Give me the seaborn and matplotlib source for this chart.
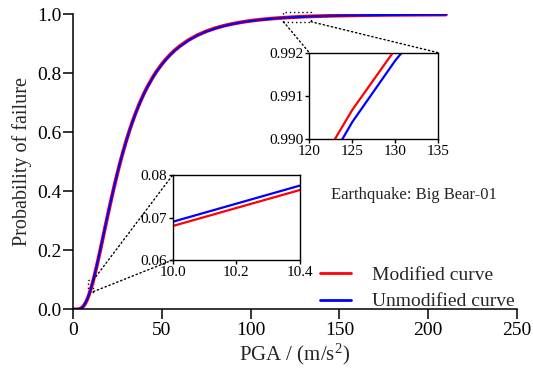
import matplotlib
matplotlib.use("Agg")
import matplotlib.pyplot as plt
from matplotlib.patches import Rectangle, ConnectionPatch
import seaborn as sns
import pandas as pd

# ---- data ----
pga = [0, 1, 2, 3, 4, 5, 6, 7, 8, 9, 10, 11, 12, 13, 14, 15, 16, 17, 18, 19, 20,
       21, 22, 23, 24, 25, 26, 27, 28, 30, 32, 33, 35, 37, 38, 40, 42, 45, 47, 50,
       52, 55, 57, 60, 65, 70, 75, 80, 85, 90, 95, 100, 105, 110, 115, 120, 125,
       130, 135, 150, 165, 180, 195, 210]
p_modified = [0.0, 0.0, 0.00004, 0.00044, 0.00196, 0.00545, 0.01166, 0.02099, 0.0336,
              0.0493, 0.0680, 0.0892, 0.1125, 0.1375, 0.1638, 0.1911, 0.2190, 0.2472,
              0.2755, 0.3036, 0.3313, 0.3587, 0.3855, 0.4116, 0.4370, 0.4616, 0.4853,
              0.5082, 0.5303, 0.5718, 0.6099, 0.6278, 0.6611, 0.6915, 0.7056, 0.7320,
              0.7558, 0.7876, 0.8062, 0.8310, 0.8457, 0.8651, 0.8765, 0.8917, 0.9127,
              0.9293, 0.9424, 0.9529, 0.9613, 0.9680, 0.9735, 0.9780, 0.9816, 0.9845,
              0.98699, 0.98901, 0.99068, 0.99208, 0.99324, 0.99573, 0.99724, 0.99818,
              0.99878, 0.99916]
p_unmodified = [0.0, 0.0, 0.00004, 0.00047, 0.00205, 0.00566, 0.01202, 0.02157, 0.0343,
                0.0502, 0.0690, 0.0903, 0.1137, 0.1388, 0.1651, 0.1924, 0.2202, 0.2484,
                0.2766, 0.3046, 0.3323, 0.3596, 0.3862, 0.4122, 0.4375, 0.4620, 0.4856,
                0.5083, 0.5303, 0.5716, 0.6096, 0.6273, 0.6605, 0.6907, 0.7049, 0.7311,
                0.7549, 0.7866, 0.8052, 0.8300, 0.8445, 0.8640, 0.8754, 0.8906, 0.9117,
                0.9283, 0.9416, 0.9521, 0.9606, 0.9674, 0.9730, 0.9774, 0.9811, 0.9841,
                0.98662, 0.98869, 0.9904, 0.99182, 0.99302, 0.99557, 0.99713, 0.99810,
                0.99871, 0.99912]
series_names = ["Modified curve", "Unmodified curve"]
main_xticks = [0, 50, 100, 150, 200, 250]
main_yticks = [0.0, 0.2, 0.4, 0.6, 0.8, 1.0]
ins1_xticks = [120, 125, 130, 135]
ins1_yticks = [0.990, 0.991, 0.992]
ins2_xticks = [10.0, 10.2, 10.4]
ins2_yticks = [0.06, 0.07, 0.08]
annotation = "Earthquake: Big Bear-01"

n = min(len(pga), len(p_modified), len(p_unmodified))
df = pd.DataFrame({
    "PGA": pga[:n] * 2,
    "P": p_modified[:n] + p_unmodified[:n],
    "curve": [series_names[0]] * n + [series_names[1]] * n,
})

sns.set_style("ticks")
plt.rcParams["font.family"] = ["Liberation Serif", "DejaVu Serif"]
plt.rcParams["mathtext.fontset"] = "custom"
plt.rcParams["mathtext.rm"] = "Liberation Serif"
plt.rcParams["mathtext.it"] = "Liberation Serif:italic"

palette = {series_names[0]: "#ff0000", series_names[1]: "#0000ff"}

fig = plt.figure(figsize=(5.33, 3.72), dpi=100)
ax = fig.add_axes([0.137, 0.1685, 0.833, 0.793])

for name, lw in [(series_names[0], 2.7), (series_names[1], 1.5)]:
    sub = df[df["curve"] == name]
    sns.lineplot(data=sub, x="PGA", y="P", color=palette[name], lw=lw, ax=ax,
                 label=name, estimator=None, sort=False)

ax.set_xlim(0, 250)
ax.set_ylim(0, 1.0)
ax.set_xticks(main_xticks)
ax.set_yticks(main_yticks)
ax.set_yticklabels([f"{v:.1f}" for v in main_yticks])
ax.set_xticklabels([str(v) for v in main_xticks])
sns.despine(ax=ax)
for s in ["left", "bottom"]:
    ax.spines[s].set_linewidth(1.1)
    ax.spines[s].set_color("black")
ax.tick_params(axis="both", direction="out", length=7, width=1.1, labelsize=14,
               colors="black")
ax.tick_params(axis="y", pad=1)
ax.tick_params(axis="x", pad=2)
ax.set_xlabel("PGA / (m/s$^2$)", fontsize=15, labelpad=2)
ax.set_ylabel("Probability of failure", fontsize=14.5, labelpad=4)

leg = ax.legend(loc="lower right", bbox_to_anchor=(1.0, -0.01), frameon=False,
                fontsize=14, handlelength=1.6, handletextpad=1.1, labelspacing=0.45,
                borderaxespad=0.0, borderpad=0.1)
for h in leg.get_lines():
    h.set_linewidth(2.0)

ax.text(0.768, 0.387, annotation, transform=ax.transAxes, fontsize=12,
        ha="center", va="center")

# ---- inset 1 (upper right) ----
ins1 = fig.add_axes([0.5803, 0.6255, 0.242, 0.2328])
for name in series_names:
    sub = df[df["curve"] == name]
    sns.lineplot(data=sub, x="PGA", y="P", color=palette[name], lw=1.6, ax=ins1,
                 legend=False, estimator=None, sort=False)
ins1.set_xlim(120, 135)
ins1.set_ylim(0.990, 0.992)
ins1.set_xticks(ins1_xticks)
ins1.set_yticks(ins1_yticks)
ins1.set_xticklabels([str(v) for v in ins1_xticks])
ins1.set_yticklabels([f"{v:.3f}" for v in ins1_yticks])
ins1.set_xlabel("")
ins1.set_ylabel("")

# ---- inset 2 (lower) ----
ins2 = fig.add_axes([0.324, 0.301, 0.2388, 0.2285])
for name in series_names:
    sub = df[df["curve"] == name]
    sns.lineplot(data=sub, x="PGA", y="P", color=palette[name], lw=1.6, ax=ins2,
                 legend=False, estimator=None, sort=False)
ins2.set_xlim(10.0, 10.4)
ins2.set_ylim(0.06, 0.08)
ins2.set_xticks(ins2_xticks)
ins2.set_yticks(ins2_yticks)
ins2.set_xticklabels([f"{v:.1f}" for v in ins2_xticks])
ins2.set_yticklabels([f"{v:.2f}" for v in ins2_yticks])
ins2.set_xlabel("")
ins2.set_ylabel("")

for a in (ins1, ins2):
    for s in a.spines.values():
        s.set_linewidth(1.0)
        s.set_color("black")
        s.set_visible(True)
    a.tick_params(axis="both", direction="out", length=3, width=1.0, labelsize=11,
                  pad=1, colors="black")
    a.set_facecolor("white")

# ---- zoom markers ----
dot = dict(ls=(0, (1, 2)), lw=1.0, color="black")
r1 = Rectangle((118.5, 0.975), 15.5, 0.032, fill=False, clip_on=False, **dot)
ax.add_patch(r1)
for (xa, ya), (xb, yb) in [((118.5, 0.975), (0, 1)), ((134, 0.975), (1, 1))]:
    cp = ConnectionPatch(xyA=(xa, ya), coordsA=ax.transData, xyB=(xb, yb),
                         coordsB=ins1.transAxes, **dot)
    fig.add_artist(cp)
r2 = Rectangle((8.5, 0.06), 3.0, 0.04, fill=False, **dot)
ax.add_patch(r2)
for (xa, ya), (xb, yb) in [((11.5, 0.10), (0, 1)), ((11.5, 0.06), (0, 0))]:
    cp = ConnectionPatch(xyA=(xa, ya), coordsA=ax.transData, xyB=(xb, yb),
                         coordsB=ins2.transAxes, **dot)
    fig.add_artist(cp)

fig.savefig("out.png", dpi=100)
